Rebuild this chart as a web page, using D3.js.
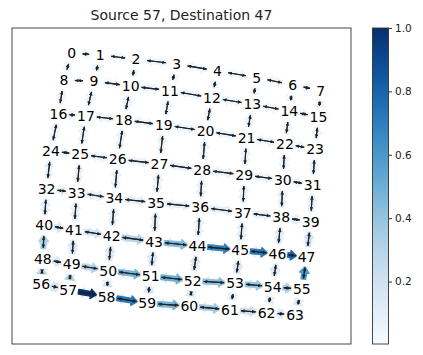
<!DOCTYPE html>
<html>
<head>
<meta charset="utf-8">
<script src="https://cdn.jsdelivr.net/npm/d3@7"></script>
<style>
  body { margin: 0; background: #fff; }
  text { font-family: "DejaVu Sans", sans-serif; }
</style>
</head>
<body>
<div id="chart"></div>
<script>
const title = "Source 57, Destination 47";

// node layout (layout units, 8x8 grid, row by row)
const nodeX = [
  0.176,0.260,0.366,0.486,0.606,0.722,0.828,0.911,
  0.153,0.242,0.350,0.466,0.590,0.709,0.818,0.904,
  0.137,0.218,0.330,0.448,0.571,0.692,0.805,0.894,
  0.115,0.201,0.312,0.435,0.561,0.685,0.799,0.887,
  0.102,0.191,0.302,0.425,0.555,0.681,0.794,0.881,
  0.095,0.183,0.294,0.419,0.547,0.673,0.783,0.869,
  0.091,0.176,0.284,0.409,0.533,0.658,0.769,0.855,
  0.086,0.166,0.279,0.399,0.523,0.643,0.751,0.835
];
const nodeY = [
  0.920,0.915,0.901,0.886,0.864,0.843,0.820,0.802,
  0.835,0.832,0.816,0.802,0.779,0.759,0.737,0.719,
  0.728,0.722,0.709,0.693,0.674,0.653,0.633,0.617,
  0.611,0.600,0.585,0.570,0.551,0.535,0.519,0.503,
  0.491,0.479,0.461,0.447,0.433,0.416,0.401,0.387,
  0.376,0.361,0.342,0.324,0.310,0.297,0.285,0.276,
  0.269,0.252,0.232,0.215,0.200,0.192,0.181,0.173,
  0.190,0.171,0.150,0.129,0.120,0.108,0.099,0.092
];

// flow on horizontal edges i -> i+1 (per row) and back i+1 -> i
const hFwd = [
  [0.04,0.05,0.05,0.05,0.05,0.05,0.04],
  [0.05,0.05,0.05,0.05,0.05,0.05,0.05],
  [0.05,0.06,0.06,0.06,0.06,0.06,0.05],
  [0.06,0.07,0.07,0.07,0.07,0.07,0.06],
  [0.08,0.09,0.1,0.1,0.1,0.09,0.08],
  [0.15,0.18,0.3,0.45,0.68,0.72,0.78],
  [0.15,0.3,0.48,0.5,0.42,0.38,0.32],
  [0.16,1.0,0.72,0.48,0.36,0.22,0.14]
];
const hBack = [
  [0.03,0.04,0.04,0.04,0.04,0.04,0.03],
  [0.04,0.04,0.04,0.04,0.04,0.04,0.04],
  [0.04,0.05,0.05,0.05,0.05,0.05,0.04],
  [0.05,0.05,0.05,0.05,0.05,0.05,0.05],
  [0.06,0.06,0.06,0.06,0.06,0.06,0.06],
  [0.08,0.08,0.1,0.12,0.12,0.12,0.1],
  [0.1,0.1,0.14,0.14,0.12,0.12,0.1],
  [0.18,0.15,0.15,0.12,0.1,0.08,0.08]
];
// flow on vertical edges i -> i+8 (down) and i+8 -> i (up)
const vDown = [
  [0.04,0.04,0.04,0.04,0.04,0.04,0.04,0.04],
  [0.04,0.05,0.05,0.05,0.05,0.05,0.05,0.04],
  [0.05,0.05,0.05,0.05,0.05,0.05,0.05,0.05],
  [0.06,0.06,0.06,0.06,0.06,0.06,0.06,0.06],
  [0.08,0.08,0.08,0.08,0.08,0.08,0.08,0.08],
  [0.1,0.1,0.1,0.1,0.1,0.1,0.1,0.1],
  [0.1,0.1,0.1,0.1,0.1,0.1,0.1,0.1]
];
const vUp = [
  [0.05,0.05,0.05,0.05,0.05,0.05,0.05,0.05],
  [0.06,0.06,0.06,0.06,0.06,0.06,0.06,0.06],
  [0.07,0.07,0.07,0.07,0.07,0.07,0.07,0.07],
  [0.08,0.08,0.08,0.08,0.08,0.08,0.08,0.1],
  [0.1,0.1,0.1,0.1,0.1,0.1,0.12,0.22],
  [0.35,0.16,0.16,0.16,0.16,0.16,0.14,0.6],
  [0.3,0.32,0.2,0.16,0.16,0.1,0.1,0.14]
];
const cbTicks = [0.2, 0.4, 0.6, 0.8, 1.0];

const W = 423, H = 355;
const frame = {x0: 12, x1: 351, y0: 28, y1: 344};
const svg = d3.select("#chart").append("svg").attr("width", W).attr("height", H);

const x = d3.scaleLinear().domain([0, 1]).range([frame.x0, frame.x1]);
const y = d3.scaleLinear().domain([0, 1]).range([frame.y1, frame.y0]);
const color = d3.scaleSequential(d3.interpolateBlues).domain([0.003, 1]);

// build directed edges
let edges = [];
for (let r = 0; r < 8; r++) for (let c = 0; c < 7; c++) {
  let a = r * 8 + c, b = a + 1;
  edges.push({s: a, t: b, v: hFwd[r][c]});
  edges.push({s: b, t: a, v: hBack[r][c]});
}
for (let r = 0; r < 7; r++) for (let c = 0; c < 8; c++) {
  let a = r * 8 + c, b = a + 8;
  edges.push({s: a, t: b, v: vDown[r][c]});
  edges.push({s: b, t: a, v: vUp[r][c]});
}
edges.sort((p, q) => p.v - q.v);

function seg(e, shrink) {
  let x1 = x(nodeX[e.s]), y1 = y(nodeY[e.s]), x2 = x(nodeX[e.t]), y2 = y(nodeY[e.t]);
  let dx = x2 - x1, dy = y2 - y1, L = Math.sqrt(dx*dx + dy*dy);
  let ux = dx / L, uy = dy / L;
  return {ax: x1 + ux*shrink, ay: y1 + uy*shrink, bx: x2 - ux*shrink, by: y2 - uy*shrink, ux, uy, L: L - 2*shrink};
}

// wide coloured arrows
const gWide = svg.append("g");
edges.forEach(e => {
  let s = seg(e, 10.5);
  let hl = Math.min(5.5, s.L), sw = 2.2, hw = 4.6;
  let px = -s.uy, py = s.ux;
  let bx = s.bx - s.ux*hl, by = s.by - s.uy*hl;
  let pts = [
    [s.ax + px*sw, s.ay + py*sw], [bx + px*sw, by + py*sw], [bx + px*hw, by + py*hw],
    [s.bx, s.by],
    [bx - px*hw, by - py*hw], [bx - px*sw, by - py*sw], [s.ax - px*sw, s.ay - py*sw]
  ];
  gWide.append("path")
    .attr("d", d3.line()(pts) + "Z")
    .attr("fill", color(e.v))
    .attr("stroke", color(e.v))
    .attr("stroke-width", 1.6)
    .attr("stroke-linejoin", "round");
});

// thin black arrows
svg.append("defs").append("marker")
  .attr("id", "ah").attr("viewBox", "0 0 10 10").attr("refX", 10).attr("refY", 5)
  .attr("markerWidth", 4.2).attr("markerHeight", 3.6).attr("markerUnits", "userSpaceOnUse")
  .attr("orient", "auto")
  .append("path").attr("d", "M0,0L10,5L0,10Z").attr("fill", "#222");

const gLine = svg.append("g");
edges.forEach(e => {
  let s = seg(e, 11);
  if (s.L <= 0) return;
  gLine.append("line")
    .attr("x1", s.ax).attr("y1", s.ay).attr("x2", s.bx).attr("y2", s.by)
    .attr("stroke", "#222").attr("stroke-width", 1.1)
    .attr("marker-end", "url(#ah)");
});

// node labels
svg.append("g").selectAll("text").data(nodeX).join("text")
  .attr("x", (d, i) => x(nodeX[i]))
  .attr("y", (d, i) => y(nodeY[i]))
  .attr("dy", "0.36em")
  .attr("text-anchor", "middle")
  .attr("font-size", "14px")
  .attr("fill", "#000")
  .text((d, i) => i);

// frame
svg.append("rect")
  .attr("x", frame.x0).attr("y", frame.y0)
  .attr("width", frame.x1 - frame.x0).attr("height", frame.y1 - frame.y0)
  .attr("fill", "none").attr("stroke", "#333").attr("stroke-width", 0.9);

svg.append("text")
  .attr("x", (frame.x0 + frame.x1) / 2).attr("y", 20)
  .attr("text-anchor", "middle").attr("font-size", "14px").attr("fill", "#222")
  .text(title);

// colorbar
const cb = {x: 372.5, w: 16};
const cy = d3.scaleLinear().domain([0.003, 1]).range([frame.y1, frame.y0]);
const grad = svg.select("defs").append("linearGradient")
  .attr("id", "cbg").attr("x1", 0).attr("y1", 1).attr("x2", 0).attr("y2", 0);
d3.range(0, 1.0001, 0.05).forEach(t => {
  grad.append("stop").attr("offset", t).attr("stop-color", d3.interpolateBlues(t));
});
svg.append("rect")
  .attr("x", cb.x).attr("y", frame.y0).attr("width", cb.w).attr("height", frame.y1 - frame.y0)
  .attr("fill", "url(#cbg)").attr("stroke", "#333").attr("stroke-width", 0.9);

const axis = svg.append("g")
  .attr("transform", `translate(${cb.x + cb.w},0)`)
  .call(d3.axisRight(cy).tickValues(cbTicks).tickFormat(d3.format(".1f")).tickSize(3.5).tickPadding(3));
axis.select(".domain").remove();
axis.selectAll("text").attr("font-size", "10.5px").attr("fill", "#222").attr("font-family", "DejaVu Sans");
axis.selectAll("line").attr("stroke", "#333");
</script>
</body>
</html>
